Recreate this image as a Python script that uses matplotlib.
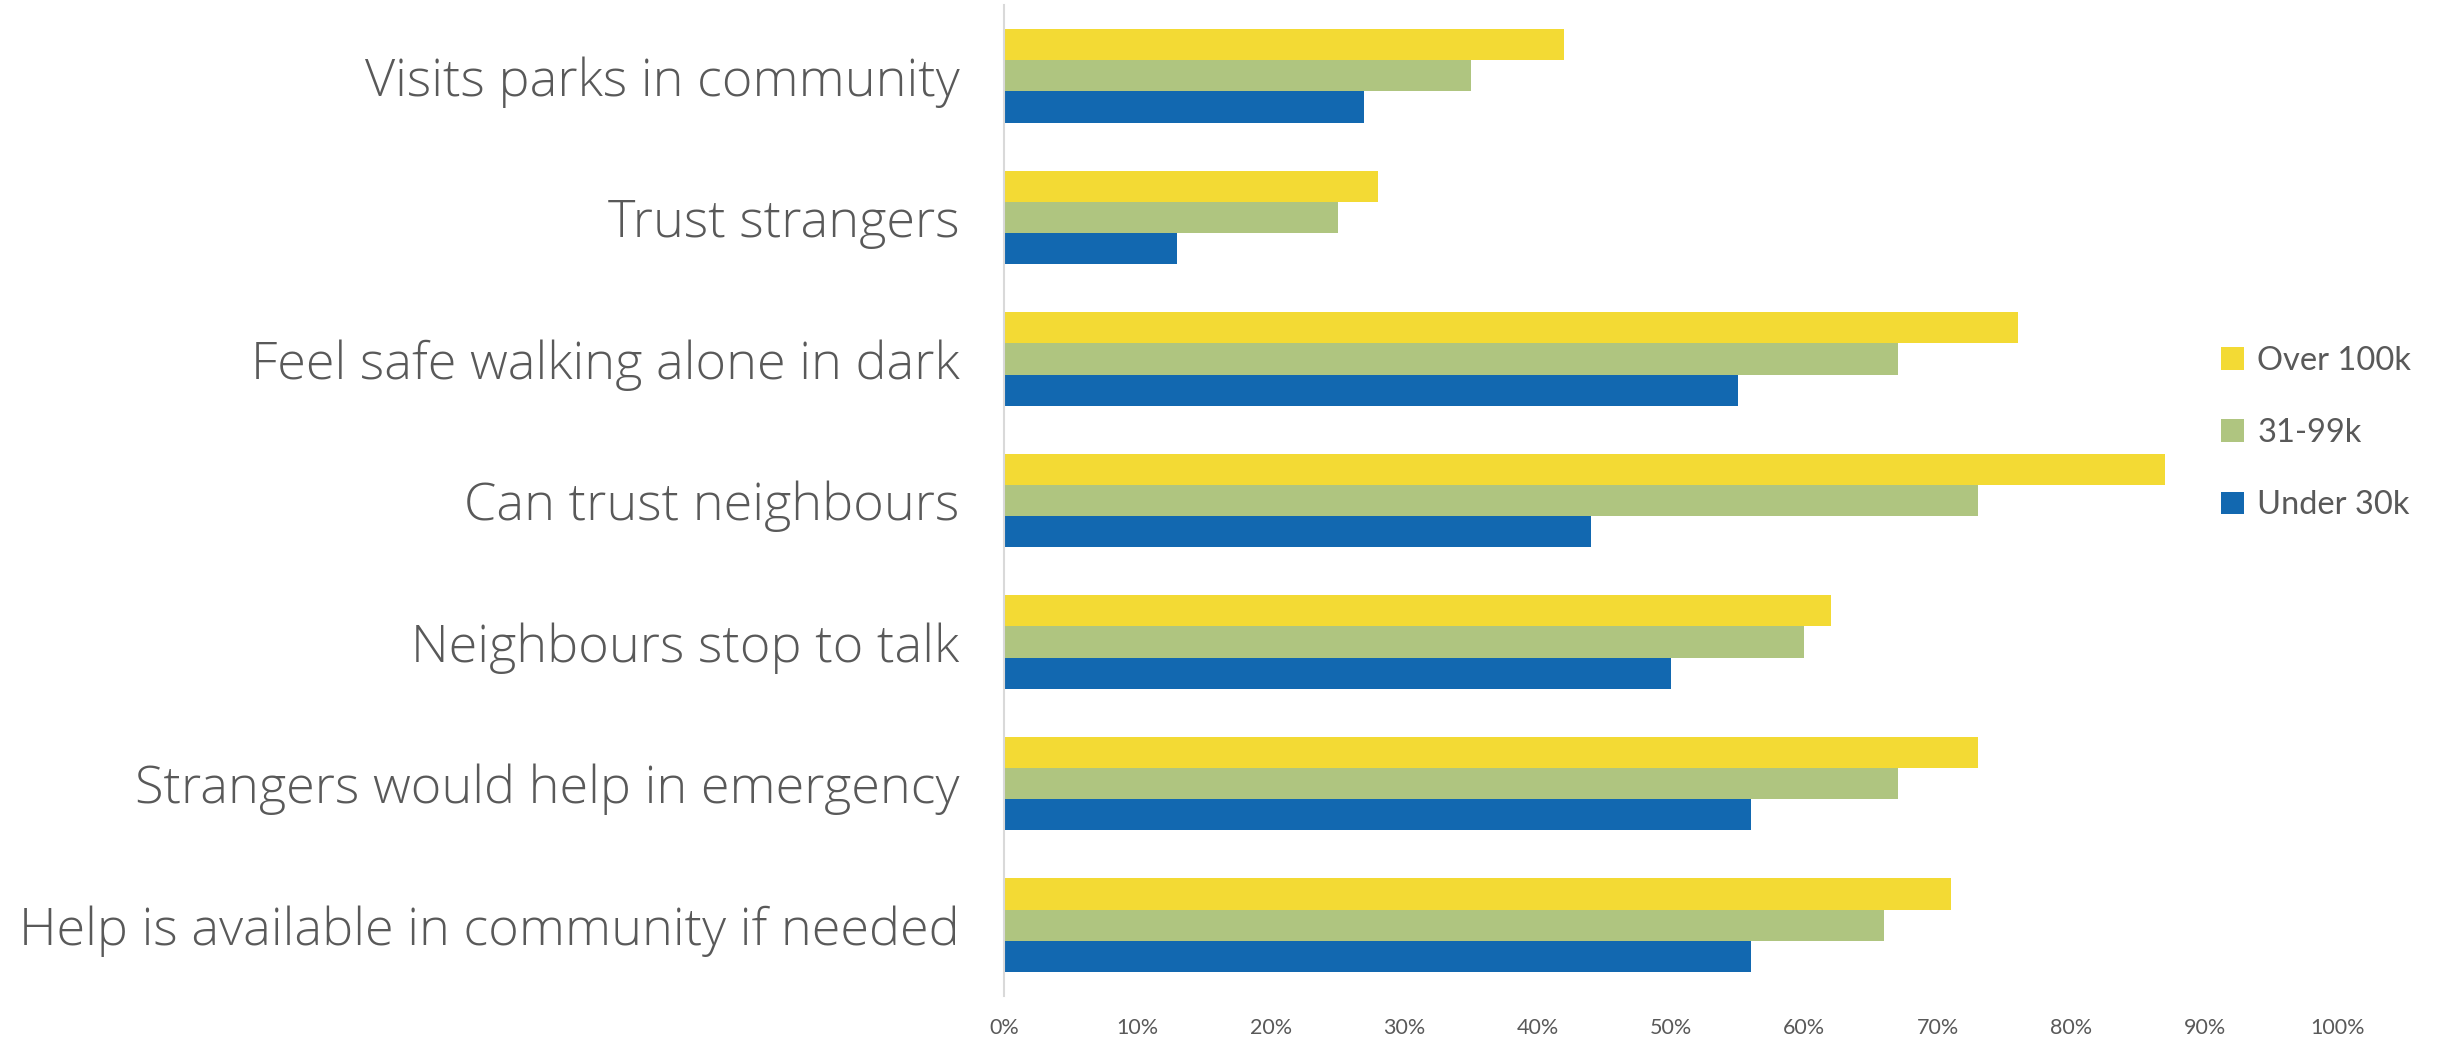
import matplotlib
matplotlib.use("Agg")
import matplotlib.pyplot as plt
from matplotlib.ticker import FuncFormatter
import numpy as np

categories = [
    "Visits parks in community",
    "Trust strangers",
    "Feel safe walking alone in dark",
    "Can trust neighbours",
    "Neighbours stop to talk",
    "Strangers would help in emergency",
    "Help is available in community if needed",
]
over_100k = [42, 28, 76, 87, 62, 73, 71]
k31_99 = [35, 25, 67, 73, 60, 67, 66]
under_30k = [27, 13, 55, 44, 50, 56, 56]
series_names = ["Over 100k", "31-99k", "Under 30k"]
colors = ["#F3DA34", "#AFC580", "#1268B0"]
xticks = list(range(0, 101, 10))

fig = plt.figure(figsize=(24.38, 10.39), dpi=100)
ax = fig.add_axes([1004/2438, 1 - 996/1039, (2338-1004)/2438, (996-5)/1039])

y = np.arange(len(categories))
h = 0.22
handles = []
for k, (vals, name, c) in enumerate(zip([over_100k, k31_99, under_30k], series_names, colors)):
    b = ax.barh(y + (k - 1) * h, vals, height=h, color=c, label=name, edgecolor="none")
    handles.append(b)

ax.set_ylim(len(categories) - 0.5, -0.5)
ax.set_xlim(0, 100)
ax.set_xticks(xticks)
ax.xaxis.set_major_formatter(FuncFormatter(lambda v, p: f"{int(v)}%"))
ax.set_yticks(y)
labs = ax.set_yticklabels(categories, family=["Open Sans", "DejaVu Sans"], fontweight=300,
                          fontsize=32, color="#595959")
for lab in ax.get_xticklabels():
    lab.set_family(["Lato", "DejaVu Sans"])
    lab.set_fontsize(15.5)
    lab.set_color("#595959")
ax.tick_params(axis="y", length=0, pad=32)
ax.tick_params(axis="x", length=0, pad=16)
for s in ["top", "right", "bottom"]:
    ax.spines[s].set_visible(False)
ax.spines["left"].set_color("#D9D9D9")
ax.spines["left"].set_linewidth(1.5)

# fit label font size so the longest label spans its width in the reference
fig.canvas.draw()
r = fig.canvas.get_renderer()
w = max(l.get_window_extent(r).width for l in ax.get_yticklabels())
fs = 32 * 943 / w
for l in ax.get_yticklabels():
    l.set_fontsize(fs)

leg = fig.legend(handles=handles, labels=series_names, loc="center left",
                 bbox_to_anchor=(2192/2438, 1 - 433/1039), frameon=False,
                 prop={"family": ["Lato", "DejaVu Sans"], "size": 23.5},
                 handlelength=0.7, handleheight=0.7, handletextpad=0.4,
                 labelspacing=1.3, labelcolor="#595959")

fig.savefig("out.png", dpi=100, facecolor="white")
